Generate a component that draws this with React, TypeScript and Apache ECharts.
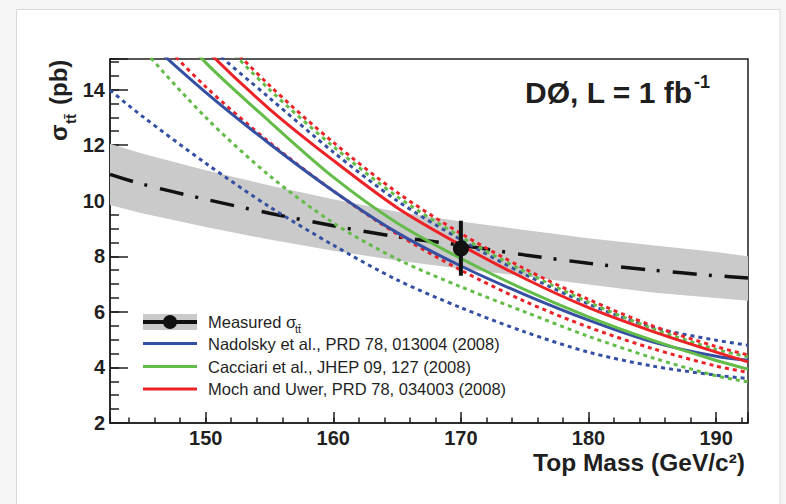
import React, { useEffect, useRef } from "react";
import * as echarts from "echarts";

// ---- data ----
const masses = [142.5, 145, 150, 155, 160, 165, 170, 175, 180, 185, 190, 192.5];

const nadolskyLow = [13.98, 13.05, 11.35, 9.78, 8.4, 7.15, 6.15, 5.28, 4.55, 4.05, 3.72, 3.6];
const nadolskyCentral = [17.1, 15.95, 13.9, 12.05, 10.35, 8.85, 7.65, 6.62, 5.7, 4.92, 4.4, 4.26];
const nadolskyHigh = [19.7, 18.3, 15.7, 13.7, 11.75, 10.0, 8.6, 7.35, 6.28, 5.45, 4.98, 4.8];

const cacciariLow = [16.9, 15.5, 13.0, 10.9, 9.2, 7.9, 6.9, 6.0, 5.12, 4.35, 3.7, 3.48];
const cacciariCentral = [18.9, 17.5, 14.97, 12.85, 10.85, 9.2, 7.92, 6.8, 5.82, 4.98, 4.25, 3.94];
const cacciariHigh = [20.5, 19.0, 16.35, 14.0, 11.95, 10.15, 8.7, 7.45, 6.35, 5.4, 4.65, 4.38];

const mochLow = [17.7, 16.45, 14.1, 12.1, 10.35, 8.8, 7.5, 6.38, 5.45, 4.68, 4.05, 3.82];
const mochCentral = [19.1, 17.9, 15.45, 13.3, 11.45, 9.75, 8.4, 7.2, 6.15, 5.3, 4.55, 4.2];
const mochHigh = [20.7, 19.2, 16.5, 14.15, 12.1, 10.3, 8.82, 7.55, 6.45, 5.5, 4.75, 4.45];

const measuredCentral = [10.95, 10.6, 10.05, 9.55, 9.1, 8.7, 8.4, 8.05, 7.75, 7.5, 7.3, 7.22];
const measuredHigh = [12.05, 11.7, 11.1, 10.55, 10.05, 9.6, 9.25, 8.95, 8.65, 8.4, 8.15, 8.0];
const measuredLow = [9.85, 9.55, 9.05, 8.6, 8.2, 7.85, 7.55, 7.28, 6.98, 6.7, 6.5, 6.4];

const pointMass = 170;
const pointXsec = 8.28;
const pointErrLow = 7.3;
const pointErrHigh = 9.28;

const xTickLabels = [150, 160, 170, 180, 190];
const yTickLabels = [2, 4, 6, 8, 10, 12, 14];

const legendLabels = [
  "Nadolsky et al., PRD 78, 013004 (2008)",
  "Cacciari et al., JHEP 09, 127 (2008)",
  "Moch and Uwer, PRD 78, 034003 (2008)",
];

const BLUE = "#3550a3";
const GREEN = "#63bc48";
const RED = "#ec2227";
const INK = "#1f1f1f";
const BAND = "#cacaca";
const FONT = '"Liberation Sans", Arial, Helvetica, sans-serif';

function pairs(vals: number[]) {
  return masses.map((m, i) => [m, vals[i]]);
}

export default function App() {
  const ref = useRef<HTMLDivElement>(null);

  useEffect(() => {
    document.body.style.margin = "0";
    const chart = echarts.init(ref.current!, null, { renderer: "svg" });

    const theory = [
      { vals: nadolskyLow, color: BLUE, dotted: true },
      { vals: nadolskyHigh, color: BLUE, dotted: true },
      { vals: cacciariLow, color: GREEN, dotted: true },
      { vals: cacciariHigh, color: GREEN, dotted: true },
      { vals: mochLow, color: RED, dotted: true },
      { vals: mochHigh, color: RED, dotted: true },
      { vals: nadolskyCentral, color: BLUE, dotted: false },
      { vals: cacciariCentral, color: GREEN, dotted: false },
      { vals: mochCentral, color: RED, dotted: false },
    ];

    const axisLineStyle = { color: INK, width: 1.5 };
    const labelStyle = {
      fontSize: 20,
      fontWeight: "bold" as const,
      color: INK,
      fontFamily: FONT,
    };

    const legendColors = [BLUE, GREEN, RED];
    const legendY = [343.5, 366.5, 389];

    const graphic: any[] = [
      {
        type: "rect",
        z: -100,
        silent: true,
        shape: { x: 16.5, y: 9.5, width: 763.5, height: 520 },
        style: { fill: "#ffffff", stroke: "#d9d9d9", lineWidth: 1 },
      },
      // y axis title
      {
        type: "group",
        x: 58.5,
        y: 141,
        rotation: Math.PI / 2,
        z: 100,
        children: [
          {
            type: "text",
            x: 0,
            y: 0,
            style: { text: "σ", font: `bold 24px ${FONT}`, fill: INK, align: "left", verticalAlign: "middle" },
          },
          {
            type: "text",
            x: 17,
            y: 12,
            style: { text: "tt\u0304", font: `bold 15px ${FONT}`, fill: INK, align: "left", verticalAlign: "middle" },
          },
          {
            type: "text",
            x: 36,
            y: 0,
            style: { text: "(pb)", font: `bold 24px ${FONT}`, fill: INK, align: "left", verticalAlign: "middle" },
          },
        ],
      },
      // x axis title
      {
        type: "text",
        x: 745,
        y: 462,
        z: 100,
        style: { text: "Top Mass (GeV/c²)", font: `bold 24.5px ${FONT}`, fill: INK, align: "right", verticalAlign: "middle" },
      },
      // experiment label
      {
        type: "text",
        x: 525,
        y: 92,
        z: 100,
        style: { text: "DØ, L = 1 fb", font: `bold 30px ${FONT}`, fill: INK, align: "left", verticalAlign: "middle" },
      },
      {
        type: "text",
        x: 694,
        y: 82,
        z: 100,
        style: { text: "-1", font: `bold 18px ${FONT}`, fill: INK, align: "left", verticalAlign: "middle" },
      },
      // legend: measured
      {
        type: "rect",
        z: 100,
        shape: { x: 143, y: 314, width: 54, height: 16 },
        style: { fill: BAND },
      },
      {
        type: "line",
        z: 101,
        shape: { x1: 143, y1: 322, x2: 197, y2: 322 },
        style: { stroke: "#111", lineWidth: 4 },
      },
      {
        type: "circle",
        z: 102,
        shape: { cx: 170, cy: 322, r: 7 },
        style: { fill: "#111" },
      },
      {
        type: "text",
        x: 208,
        y: 322,
        z: 100,
        style: { text: "Measured σ", font: `16.5px ${FONT}`, fill: INK, align: "left", verticalAlign: "middle" },
      },
      {
        type: "text",
        x: 295,
        y: 329,
        z: 100,
        style: { text: "tt\u0304", font: `11px ${FONT}`, fill: INK, align: "left", verticalAlign: "middle" },
      },
    ];

    legendLabels.forEach((label, i) => {
      graphic.push({
        type: "line",
        z: 100,
        shape: { x1: 143, y1: legendY[i], x2: 197, y2: legendY[i] },
        style: { stroke: legendColors[i], lineWidth: 3 },
      });
      graphic.push({
        type: "text",
        x: 208,
        y: legendY[i],
        z: 100,
        style: { text: label, font: `16.5px ${FONT}`, fill: INK, align: "left", verticalAlign: "middle" },
      });
    });

    const option: any = {
      animation: false,
      backgroundColor: "#f5f5f5",
      grid: {
        left: 110,
        right: 38,
        top: 59,
        bottom: 81,
        show: true,
        borderColor: INK,
        borderWidth: 1.5,
        backgroundColor: "#ffffff",
        containLabel: false,
      },
      xAxis: [
        {
          type: "value",
          min: 142.5,
          max: 192.5,
          position: "bottom",
          axisLine: { show: true, onZero: false, lineStyle: axisLineStyle },
          axisTick: { show: true, inside: true, length: 11, lineStyle: axisLineStyle },
          axisLabel: {
            ...labelStyle,
            margin: 5,
            formatter: (v: number) => (xTickLabels.includes(v) ? String(v) : ""),
          },
          splitLine: { show: false },
        },
        {
          type: "value",
          min: 142.5,
          max: 192.5,
          splitNumber: 25,
          position: "bottom",
          axisLine: { show: false, onZero: false },
          axisTick: { show: true, inside: true, length: 5.5, lineStyle: axisLineStyle },
          axisLabel: { show: false },
          splitLine: { show: false },
        },
      ],
      yAxis: [
        {
          type: "value",
          min: 2,
          max: 15.1,
          interval: 2,
          position: "left",
          axisLine: { show: true, onZero: false, lineStyle: axisLineStyle },
          axisTick: { show: true, inside: true, length: 18, lineStyle: axisLineStyle },
          axisLabel: {
            ...labelStyle,
            margin: 5,
            formatter: (v: number) => (yTickLabels.includes(v) ? String(v) : ""),
          },
          splitLine: { show: false },
        },
        {
          type: "value",
          min: 2,
          max: 15.1,
          interval: 0.5,
          position: "left",
          axisLine: { show: false, onZero: false },
          axisTick: { show: true, inside: true, length: 9, lineStyle: axisLineStyle },
          axisLabel: { show: false },
          splitLine: { show: false },
        },
      ],
      graphic,
      series: [
        {
          type: "custom",
          silent: true,
          z: 1,
          clip: true,
          data: [[masses[0], measuredLow[0]]],
          renderItem: (_params: any, api: any) => {
            const top = masses.map((m, i) => api.coord([m, measuredHigh[i]]));
            const bot = masses.map((m, i) => api.coord([m, measuredLow[i]])).reverse();
            return {
              type: "polygon",
              shape: { points: top.concat(bot) },
              style: { fill: BAND },
            };
          },
        },
        {
          type: "line",
          z: 3,
          data: pairs(measuredCentral),
          showSymbol: false,
          smooth: 0.3,
          clip: true,
          lineStyle: { color: "#111", width: 3.5, type: [24, 12, 3, 13], cap: "butt" },
        },
        ...theory.map((t) => ({
          type: "line",
          z: t.dotted ? 4 : 5,
          data: pairs(t.vals),
          showSymbol: false,
          smooth: 0.3,
          clip: true,
          itemStyle: { color: t.color },
          lineStyle: { color: t.color, width: 3, type: t.dotted ? [4, 4] : "solid", cap: "butt" },
        })),
        {
          type: "custom",
          z: 19,
          data: [[pointMass, pointErrLow, pointErrHigh]],
          encode: { x: 0, y: [1, 2] },
          renderItem: (_params: any, api: any) => {
            const p1 = api.coord([api.value(0), api.value(1)]);
            const p2 = api.coord([api.value(0), api.value(2)]);
            return {
              type: "line",
              shape: { x1: p1[0], y1: p1[1], x2: p2[0], y2: p2[1] },
              style: { stroke: "#111", lineWidth: 4 },
            };
          },
        },
        {
          type: "scatter",
          z: 20,
          data: [[pointMass, pointXsec]],
          symbol: "circle",
          symbolSize: 16,
          itemStyle: { color: "#111", opacity: 1 },
        },
      ],
    };

    chart.setOption(option);
    return () => chart.dispose();
  }, []);

  return (
    <div
      ref={ref}
      style={{ position: "fixed", left: 0, top: 0, width: 786, height: 504 }}
    />
  );
}
